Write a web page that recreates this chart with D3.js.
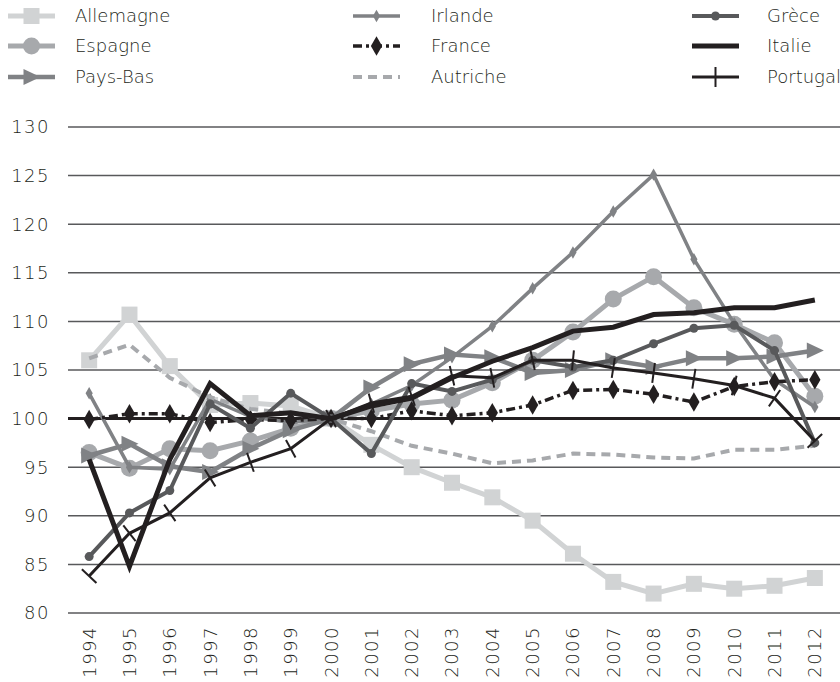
<!DOCTYPE html>
<html>
<head>
<meta charset="utf-8">
<script src="https://cdn.jsdelivr.net/npm/d3@7"></script>
<style>
  body { margin: 0; background: #fff; }
  text { font-family: "DejaVu Sans", sans-serif; fill: #231f20; font-weight: 300; }
</style>
</head>
<body>
<svg id="chart" width="840" height="682"></svg>
<script>
// categories and values
const years = ["1994","1995","1996","1997","1998","1999","2000","2001","2002","2003",
               "2004","2005","2006","2007","2008","2009","2010","2011","2012"];
const yTicks = [80, 85, 90, 95, 100, 105, 110, 115, 120, 125, 130];

const allemagne = [106.0, 110.7, 105.4, 101.4, 101.6, 101.3, 100, 97.3, 95.0, 93.4, 91.9, 89.5, 86.1, 83.2, 82.0, 83.0, 82.5, 82.8, 83.6];
const espagne   = [96.5, 94.9, 96.9, 96.7, 97.7, 99.0, 100, 100.8, 101.5, 101.9, 103.7, 106.0, 108.9, 112.3, 114.6, 111.4, 109.7, 107.8, 102.3];
const paysBas   = [96.2, 97.4, 95.1, 94.5, 96.9, 98.8, 100, 103.2, 105.6, 106.6, 106.3, 104.7, 105.0, 106.0, 105.3, 106.2, 106.2, 106.4, 107.0];
const irlande   = [102.6, 95.0, 94.8, 102.0, 100.2, 99.6, 100, 101.5, 103.4, 106.3, 109.5, 113.4, 117.1, 121.3, 125.1, 116.4, 109.8, 104.0, 101.2];
const france    = [99.9, 100.5, 100.5, 99.6, 99.9, 99.8, 100, 100.0, 100.8, 100.3, 100.6, 101.4, 102.9, 103.0, 102.5, 101.7, 103.3, 103.8, 104.0];
const autriche  = [106.2, 107.6, 104.2, 102.2, 101.0, 100.5, 100, 98.7, 97.2, 96.4, 95.4, 95.7, 96.4, 96.3, 96.0, 95.9, 96.8, 96.8, 97.2];
const grece     = [85.8, 90.3, 92.6, 101.5, 99.0, 102.6, 100, 96.4, 103.6, 102.8, 104.0, 106.0, 105.3, 106.0, 107.7, 109.3, 109.6, 107.0, 97.5];
const italie    = [95.8, 84.8, 95.8, 103.6, 100.3, 100.6, 100, 101.3, 102.1, 104.2, 105.9, 107.3, 109.0, 109.4, 110.7, 110.9, 111.4, 111.4, 112.2];
const portugal  = [83.8, 88.2, 90.3, 93.9, 95.5, 96.9, 100, 101.6, 102.3, 104.4, 104.2, 106.0, 106.0, 105.2, 104.7, 104.1, 103.4, 102.1, 97.7];

const series = [
  {name: "Allemagne", values: allemagne, color: "#d1d3d4", width: 5,   dash: null,       marker: "square",   col: 0, row: 0},
  {name: "Espagne",   values: espagne,   color: "#a7a9ac", width: 5,   dash: null,       marker: "circle",   col: 0, row: 1},
  {name: "Pays-Bas",  values: paysBas,   color: "#808285", width: 4.5, dash: null,       marker: "triangle", col: 0, row: 2},
  {name: "Irlande",   values: irlande,   color: "#808285", width: 3.5, dash: null,       marker: "diamondS", col: 1, row: 0},
  {name: "France",    values: france,    color: "#231f20", width: 3.5, dash: "9,4,3,4",  marker: "diamondL", col: 1, row: 1},
  {name: "Autriche",  values: autriche,  color: "#a7a9ac", width: 4,   dash: "9,6",      marker: null,       col: 1, row: 2},
  {name: "Grèce",     values: grece,     color: "#58595b", width: 4,   dash: null,       marker: "dot",      col: 2, row: 0},
  {name: "Italie",    values: italie,    color: "#231f20", width: 5,   dash: null,       marker: null,       col: 2, row: 1},
  {name: "Portugal",  values: portugal,  color: "#231f20", width: 3,   dash: null,       marker: "tick",     col: 2, row: 2}
];

const svg = d3.select("#chart");

const x = d3.scalePoint().domain(years).range([69, 835]).padding(0.5);
const y = d3.scaleLinear().domain([80, 130]).range([613, 127]);

// horizontal grid
const grid = svg.append("g");
grid.selectAll("line")
  .data(yTicks)
  .enter()
  .append("line")
  .attr("x1", 68).attr("x2", 840)
  .attr("y1", d => y(d)).attr("y2", d => y(d))
  .attr("stroke", d => d === 100 ? "#231f20" : "#58595b")
  .attr("stroke-width", d => d === 100 ? 3 : 1.5);

// y labels
svg.append("g").selectAll("text")
  .data(yTicks)
  .enter()
  .append("text")
  .attr("x", 50)
  .attr("y", d => y(d))
  .attr("dy", "0.36em")
  .attr("text-anchor", "end")
  .attr("font-size", 18)
  .attr("letter-spacing", 1.5)
  .text(d => d);

// x labels, rotated
svg.append("g").selectAll("text")
  .data(years)
  .enter()
  .append("text")
  .attr("transform", d => "translate(" + x(d) + ",626)rotate(-90)")
  .attr("dy", "0.36em")
  .attr("text-anchor", "end")
  .attr("font-size", 18)
  .attr("letter-spacing", 1.5)
  .text(d => d);

function drawMarker(g, type, color, angle) {
  if (type === "square") {
    g.append("rect").attr("x", -8).attr("y", -8).attr("width", 16).attr("height", 16).attr("fill", color);
  } else if (type === "circle") {
    g.append("circle").attr("r", 8.5).attr("fill", color);
  } else if (type === "triangle") {
    g.append("path").attr("d", "M-8,-8L9,0L-8,8Z").attr("fill", color);
  } else if (type === "diamondS") {
    g.append("path").attr("d", d3.symbol(d3.symbolDiamond, 45)()).attr("fill", color);
  } else if (type === "diamondL") {
    g.append("path").attr("d", d3.symbol(d3.symbolDiamond, 110)()).attr("fill", color);
  } else if (type === "dot") {
    g.append("circle").attr("r", 4.5).attr("fill", color);
  } else if (type === "tick") {
    g.append("line").attr("x1", 0).attr("x2", 0).attr("y1", -10).attr("y2", 10)
      .attr("stroke", color).attr("stroke-width", 2)
      .attr("transform", "rotate(" + (angle || 0) + ")");
  }
}

const line = d3.line()
  .x((d, i) => x(years[i]))
  .y(d => y(d));

const plot = svg.append("g");
series.forEach(s => {
  const g = plot.append("g");
  g.append("path")
    .attr("d", line(s.values))
    .attr("fill", "none")
    .attr("stroke", s.color)
    .attr("stroke-width", s.width)
    .attr("stroke-dasharray", s.dash)
    .attr("stroke-linejoin", "miter");

  if (s.marker) {
    s.values.forEach((v, i) => {
      const px = x(years[i]), py = y(v);
      const a = s.values[Math.max(i - 1, 0)], b = s.values[Math.min(i + 1, s.values.length - 1)];
      const ax = x(years[Math.max(i - 1, 0)]), bx = x(years[Math.min(i + 1, s.values.length - 1)]);
      const angle = Math.atan2(y(b) - y(a), bx - ax) * 180 / Math.PI;
      const m = g.append("g").attr("transform", "translate(" + px + "," + py + ")");
      drawMarker(m, s.marker, s.color, angle);
    });
  }
});

// legend
const colX = [8, 353, 692];
const textX = [75, 431, 767];
const rowY = [16, 46, 77];
const legend = svg.append("g");
series.forEach(s => {
  const g = legend.append("g");
  const x0 = colX[s.col], yy = rowY[s.row];
  g.append("line")
    .attr("x1", x0).attr("x2", x0 + 47)
    .attr("y1", yy).attr("y2", yy)
    .attr("stroke", s.color)
    .attr("stroke-width", s.width)
    .attr("stroke-dasharray", s.dash);
  if (s.marker) {
    const m = g.append("g").attr("transform", "translate(" + (x0 + 23.5) + "," + yy + ")");
    drawMarker(m, s.marker, s.color, 0);
  }
  g.append("text")
    .attr("x", textX[s.col])
    .attr("y", yy)
    .attr("dy", "0.36em")
    .attr("font-size", 18)
    .text(s.name);
});
</script>
</body>
</html>
